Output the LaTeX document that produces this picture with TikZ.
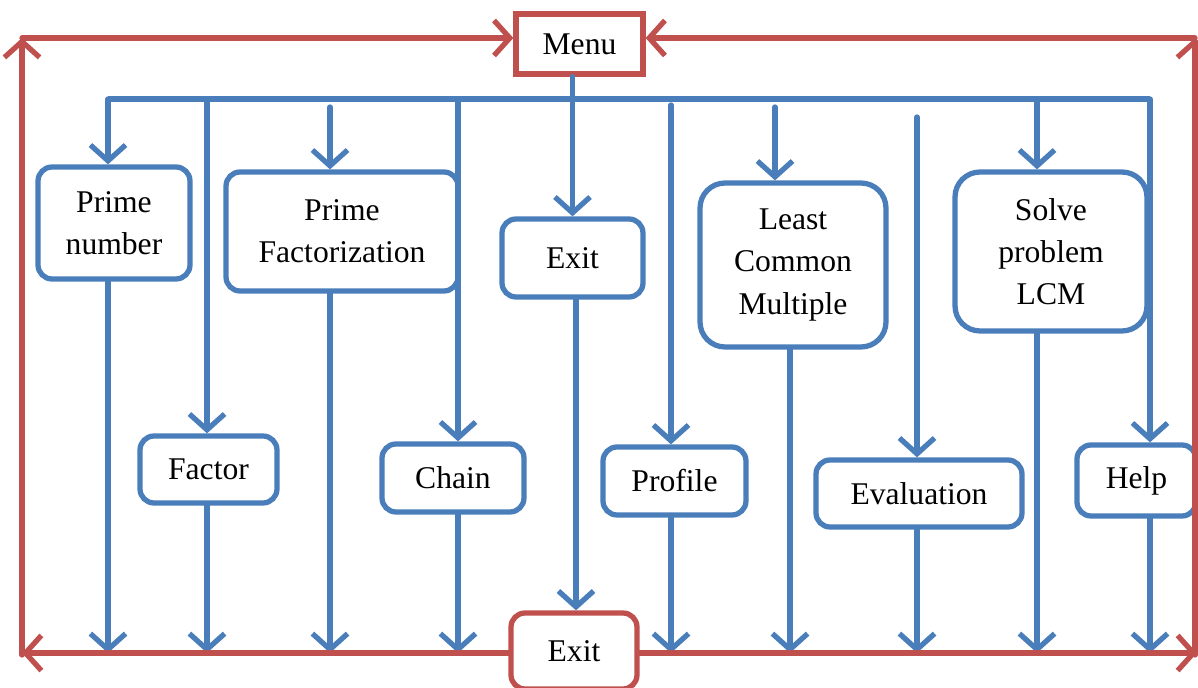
\documentclass[tikz,border=0pt]{standalone}
\usepackage{fontspec}
\setmainfont{Liberation Serif}
\usetikzlibrary{arrows.meta,calc}
\definecolor{lblue}{HTML}{4A7EBB}
\definecolor{lred}{HTML}{C0504D}
\begin{document}
\begin{tikzpicture}[x=0.02cm,y=-0.02cm,
  box/.style={draw=lblue,line width=3pt,fill=white,align=center,inner sep=0pt,
    rounded corners=0.28cm,font=\rmfamily\fontsize{18}{24}\selectfont},
  redbox/.style={box,draw=lred},
  arr/.style={line width=3pt,line cap=round,-{Straight Barb[length=9pt,width=20pt,line width=3pt]}},
  bl/.style={draw=lblue},
  rd/.style={draw=lred}]
\useasboundingbox (0,0) rectangle (1198,688);
\clip (0,0) rectangle (1198,688);
% nodes
\node[redbox,rounded corners=0pt,minimum width=2.54cm,minimum height=1.2cm] (menu) at (579.5,44) {Menu};
\node[box,minimum width=3.04cm,minimum height=2.24cm] (pn) at (114,223) {Prime\\number};
\node[box,minimum width=4.64cm,minimum height=2.38cm] (pf) at (342,231.5) {Prime\\Factorization};
\node[box,minimum width=2.82cm,minimum height=1.56cm] (ex1) at (572.5,258) {Exit};
\node[box,rounded corners=0.5cm,minimum width=3.72cm,minimum height=3.28cm] (lcm) at (793,265) {Least\\Common\\Multiple};
\node[box,rounded corners=0.5cm,minimum width=3.84cm,minimum height=3.18cm] (slv) at (1051,251.5) {Solve\\problem\\LCM};
\node[box,minimum width=2.74cm,minimum height=1.34cm] (fac) at (208.5,469.5) {Factor};
\node[box,minimum width=2.84cm,minimum height=1.36cm] (chn) at (453,478) {Chain};
\node[box,minimum width=2.86cm,minimum height=1.36cm] (prf) at (674.5,481) {Profile};
\node[box,minimum width=4.12cm,minimum height=1.34cm] (evl) at (919,493.5) {Evaluation};
\node[box,minimum width=2.38cm,minimum height=1.42cm] (hlp) at (1136.5,480.5) {Help};
\node[redbox,minimum width=2.52cm,minimum height=1.52cm] (ex2) at (574,651) {Exit};
% coordinates
\coordinate (busL) at (108,99);
\coordinate (busR) at (1150,99);
\coordinate (bot) at (0,653);
\coordinate (c1) at (108,99);
\coordinate (c2) at (207,99);
\coordinate (c3) at (330,107);
\coordinate (c4) at (458,99);
\coordinate (c5) at (671,105);
\coordinate (c6) at (775,107);
\coordinate (c7) at (917,117);
\coordinate (c8) at (1037,99);
\coordinate (c9) at (1150,99);
\coordinate (d6) at (790,0);
\coordinate (d10) at (576,0);
\coordinate (tl) at (22,38);
\coordinate (tr) at (1195,38);
\coordinate (bl) at (22,653);
\coordinate (br) at (1197,653);
\coordinate (brc) at (1195,655);
\coordinate (blc) at (22,655);
% blue bus
\draw[bl,line width=3pt] (busL) -- (busR);
\draw[bl,arr] (menu.south -| ex1.north) -- (ex1.north);
% branches top
\draw[bl,arr] (c1) -- (c1 |- pn.north);
\draw[bl,arr] (c2) -- (c2 |- fac.north);
\draw[bl,arr] (c3) -- (c3 |- pf.north);
\draw[bl,arr] (c4) -- (c4 |- chn.north);
\draw[bl,arr] (c5) -- (c5 |- prf.north);
\draw[bl,arr] (c6) -- (c6 |- lcm.north);
\draw[bl,arr] (c7) -- (c7 |- evl.north);
\draw[bl,arr] (c8) -- (c8 |- slv.north);
\draw[bl,arr] (c9) -- (c9 |- hlp.north);
% branches bottom
\draw[bl,arr] (c1 |- pn.south) -- (c1 |- bot);
\draw[bl,arr] (c2 |- fac.south) -- (c2 |- bot);
\draw[bl,arr] (c3 |- pf.south) -- (c3 |- bot);
\draw[bl,arr] (c4 |- chn.south) -- (c4 |- bot);
\draw[bl,arr] (d10 |- ex1.south) -- (d10 |- ex2.north);
\draw[bl,arr] (c5 |- prf.south) -- (c5 |- bot);
\draw[bl,arr] (d6 |- lcm.south) -- (d6 |- bot);
\draw[bl,arr] (c7 |- evl.south) -- (c7 |- bot);
\draw[bl,arr] (c8 |- slv.south) -- (c8 |- bot);
\draw[bl,arr] (c9 |- hlp.south) -- (c9 |- bot);
% red loop
\draw[rd,arr] (ex2.west |- bl) -- (bl);
\draw[rd,arr] (blc) -- (tl);
\draw[rd,arr] (tl) -- (tl -| menu.west);
\draw[rd,arr] (ex2.east |- br) -- (br);
\draw[rd,arr] (brc) -- (tr);
\draw[rd,arr] (tr) -- (tr -| menu.east);
\end{tikzpicture}
\end{document}
